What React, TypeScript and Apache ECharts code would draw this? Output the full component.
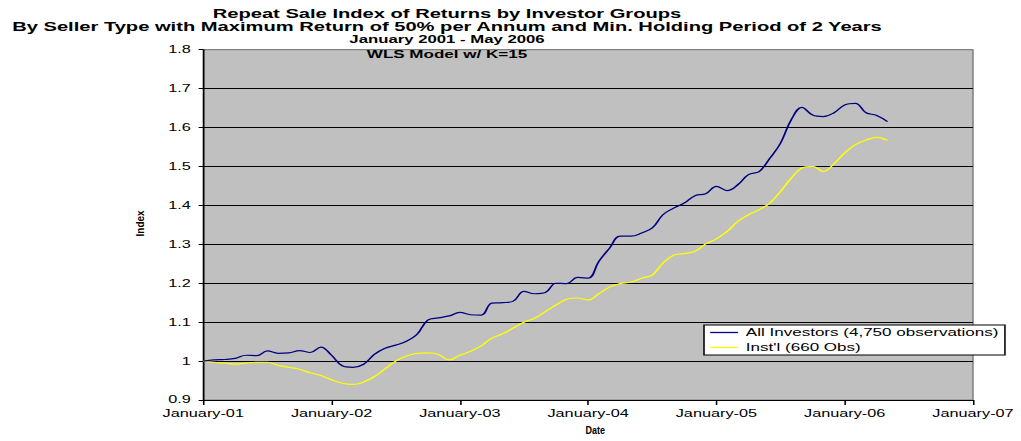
import { useEffect, useRef } from "react";
import * as echarts from "echarts";

// Month offsets from January 2001 (0 = Jan-01) to May 2006 (64)
const titleLines = [
  "Repeat Sale Index of Returns by Investor Groups",
  "By Seller Type with Maximum Return of 50% per Annum and Min. Holding Period of 2 Years",
  "January 2001 - May 2006",
  "WLS Model w/ K=15",
];
const xTickLabels = [
  "January-01",
  "January-02",
  "January-03",
  "January-04",
  "January-05",
  "January-06",
  "January-07",
];
const seriesNames = ["All Investors (4,750 observations)", "Inst'l (660 Obs)"];
const allInvestors = [
  1.0, 1.003, 1.004, 1.007, 1.015, 1.014, 1.026, 1.02, 1.021, 1.027, 1.022, 1.036,
  1.015, 0.988, 0.984, 0.992, 1.017, 1.033, 1.041, 1.051, 1.069, 1.105, 1.111, 1.116,
  1.125, 1.119, 1.118, 1.149, 1.15, 1.154, 1.179, 1.173, 1.176, 1.2, 1.199, 1.215,
  1.213, 1.256, 1.29, 1.321, 1.321, 1.329, 1.342, 1.376, 1.393, 1.406, 1.425, 1.43,
  1.449, 1.438, 1.453, 1.479, 1.487, 1.521, 1.56, 1.62, 1.652, 1.632, 1.628, 1.638,
  1.658, 1.662, 1.638, 1.631, 1.615,
];
const institutional = [
  1.0, 0.997, 0.995, 0.992, 0.995, 0.997, 0.997, 0.989, 0.984, 0.979, 0.97, 0.963,
  0.952, 0.943, 0.94, 0.946, 0.96, 0.98, 1.0, 1.013, 1.02, 1.021, 1.017, 1.003,
  1.015, 1.025, 1.039, 1.059, 1.07, 1.085, 1.1, 1.11, 1.127, 1.144, 1.159, 1.162,
  1.157, 1.173, 1.19, 1.199, 1.203, 1.213, 1.221, 1.252, 1.272, 1.276, 1.282, 1.301,
  1.314, 1.333, 1.359, 1.376, 1.389, 1.406, 1.436, 1.47, 1.496, 1.5, 1.487, 1.507,
  1.535, 1.556, 1.568, 1.575, 1.567,
];
const yAxisName = "Index";
const xAxisName = "Date";

const FULL_W = 1021;
const H = 441;
const W = 659;
const S = FULL_W / W;
const FONT = "'Liberation Sans', Arial, sans-serif";

export default function App() {
  const ref = useRef<HTMLDivElement>(null);
  useEffect(() => {
    if (!ref.current) return;
    const chart = echarts.init(ref.current, undefined, { renderer: "svg", width: W, height: H });
    const splitColors = Array.from({ length: 10 }, (_, i) => (i === 9 ? "#808080" : "#000000"));
    const txt = (text: string, x: number, y: number, font: string, extra: any = {}) => ({
      type: "text",
      x,
      y,
      ...extra,
      style: {
        text,
        font,
        fill: "#000",
        align: "center",
        verticalAlign: "middle",
        textAlign: "center",
        textVerticalAlign: "middle",
      },
    });
    chart.setOption({
      animation: false,
      backgroundColor: "#ffffff",
      textStyle: { fontFamily: FONT },
      grid: {
        left: 131.2,
        right: 31,
        top: 49.7,
        bottom: 41,
        show: true,
        backgroundColor: "#C0C0C0",
        borderColor: "#808080",
        borderWidth: 1,
      },
      legend: {
        orient: "vertical",
        left: 454.4,
        top: 325,
        padding: [1, 4, 1, 4],
        itemGap: 2,
        itemWidth: 18,
        itemHeight: 1.3,
        icon: "rect",
        backgroundColor: "#ffffff",
        borderColor: "#000000",
        borderWidth: 1,
        borderRadius: 0,
        data: seriesNames,
        textStyle: { fontFamily: FONT, fontSize: 11, color: "#000", lineHeight: 13 },
      },
      xAxis: {
        type: "value",
        min: 0,
        max: 72,
        interval: 12,
        axisLine: { show: true, lineStyle: { color: "#000", width: 1 } },
        axisTick: { show: true, inside: false, length: 5, lineStyle: { color: "#000" } },
        splitLine: { show: false },
        axisLabel: {
          showMinLabel: true,
          showMaxLabel: true,
          margin: 8,
          color: "#000",
          fontFamily: FONT,
          fontSize: 10.5,
          formatter: (v: number) => xTickLabels[Math.round(v / 12)] ?? "",
        },
      },
      yAxis: {
        type: "value",
        min: 0.9,
        max: 1.8,
        interval: 0.1,
        axisLine: { show: true, lineStyle: { color: "#000", width: 1 } },
        axisTick: { show: true, inside: false, length: 3, lineStyle: { color: "#000" } },
        splitLine: { show: true, lineStyle: { color: splitColors, width: 1 } },
        axisLabel: {
          margin: 8,
          color: "#000",
          fontFamily: FONT,
          fontSize: 10.5,
          formatter: (v: number) => String(Number(v.toFixed(1))),
        },
      },
      graphic: [
        txt(titleLines[0], 288.5, 13.5, `bold 13px ${FONT}`),
        txt(titleLines[1], 288.5, 26.8, `bold 13px ${FONT}`),
        txt(titleLines[2], 288.5, 39.4, `bold 10.8px ${FONT}`),
        txt(titleLines[3], 288.5, 54.4, `bold 11px ${FONT}`, { z: 100 }),
        txt(yAxisName, 90.4, 223.4, `bold 10px ${FONT}`, { rotation: Math.PI / 2, scaleY: 1 / S }),
        txt(xAxisName, 384.2, 430.3, `bold 10px ${FONT}`, { scaleX: 0.9 / S }),
      ],
      series: [
        {
          name: seriesNames[0],
          type: "line",
          data: allInvestors.map((v, i) => [i, v]),
          symbol: "none",
          showSymbol: false,
          smooth: 0.4,
          lineStyle: { color: "#000080", width: 1.2 },
          itemStyle: { color: "#000080" },
          z: 3,
        },
        {
          name: seriesNames[1],
          type: "line",
          data: institutional.map((v, i) => [i, v]),
          symbol: "none",
          showSymbol: false,
          smooth: 0.4,
          lineStyle: { color: "#FFFF00", width: 1.2 },
          itemStyle: { color: "#FFFF00" },
          z: 2,
        },
      ],
    });
    return () => chart.dispose();
  }, []);
  return (
    <div
      style={{
        position: "absolute",
        left: 0,
        top: 0,
        width: FULL_W,
        height: H,
        overflow: "hidden",
        background: "#ffffff",
      }}
    >
      <div
        ref={ref}
        style={{ width: W, height: H, transform: `scaleX(${S})`, transformOrigin: "0 0" }}
      />
    </div>
  );
}
